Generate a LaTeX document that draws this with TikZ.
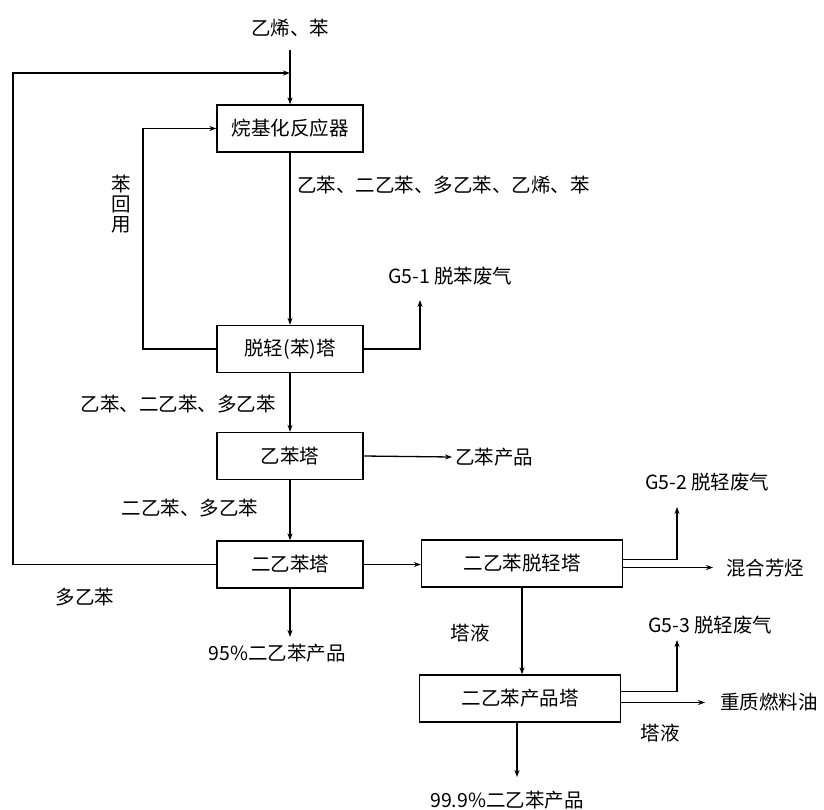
\documentclass[tikz,border=0pt]{standalone}
\usepackage{fontspec}
\setmainfont{Liberation Sans}
\newfontfamily\cjk{Noto Sans CJK SC}
\usetikzlibrary{arrows.meta,positioning}

\begin{document}
\begin{tikzpicture}[x=1pt, y=-1pt,
    unit/.style={draw=black, line width=1.3pt, minimum width=146pt, minimum height=47pt, inner sep=0pt, font=\cjk\fontsize{19.5}{21}\selectfont},
    wide/.style={unit, minimum width=201pt},
    lbl/.style={inner sep=0pt, font=\cjk\fontsize{19.5}{21}\selectfont},
    flow/.style={-{Stealth[length=7pt,width=5pt]}, line width=1.3pt},
    pipe/.style={line width=1.3pt}
]
\useasboundingbox (0,0) rectangle (824,809);

% Units
\node[unit] (reactor) at (290,128.5) {烷基化反应器};
\node[unit] (lights) at (290,349) {脱轻(苯)塔};
\node[unit] (eb) at (290,456) {乙苯塔};
\node[unit] (deb) at (290,564.5) {二乙苯塔};
\node[wide] (debl) at (522,563.5) {二乙苯脱轻塔};
\node[wide] (debp) at (520,698.5) {二乙苯产品塔};

% Labels
\node[lbl] (feed) at (290,28) {乙烯、苯};
\node[lbl, align=center, font=\cjk\fontsize{19.5}{20}\selectfont] (bzback) at (121,204) {苯\\回\\用};
\node[lbl, anchor=west] (rxout) at (297,185) {乙苯、二乙苯、多乙苯、乙烯、苯};
\node[lbl, anchor=west] (g1lbl) at (388,276) {G5-1 脱苯废气};
\node[lbl] (ltout) at (178,404) {乙苯、二乙苯、多乙苯};
\node[lbl, anchor=west] (ebprod) at (455,457) {乙苯产品};
\node[lbl] (ebout) at (190,508) {二乙苯、多乙苯};
\node[lbl] (peb) at (85,597) {多乙苯};
\node[lbl] (p95) at (277,653) {95\%二乙苯产品};
\node[lbl, anchor=west] (g2lbl) at (645,482) {G5-2 脱轻废气};
\node[lbl, anchor=west] (arom) at (726,568) {混合芳烃};
\node[lbl] (bot1) at (470,633) {塔液};
\node[lbl, anchor=west] (g3lbl) at (648,625) {G5-3 脱轻废气};
\node[lbl, anchor=west] (fuel) at (720,702) {重质燃料油};
\node[lbl] (bot2) at (660,733) {塔液};
\node[lbl] (p999) at (507,800) {99.9\%二乙苯产品};

% Free ends
\coordinate (feedtop) at (290,50);
\coordinate (mix) at (290,73);
\coordinate (outrail) at (13,0);
\coordinate (inrail) at (143,0);
\coordinate (g1) at (420,300);
\coordinate (g2) at (677,507);
\coordinate (g3) at (677,640);

% Streams
\draw[flow] (feedtop) -- (reactor.north);
\draw[flow] (deb.west) -- (deb.west -| outrail) |- (mix);
\draw[flow] (lights.west) -- (lights.west -| inrail) |- (reactor.west);
\draw[flow] (reactor.south) -- (lights.north);
\draw[flow] (lights.east) -| (g1);
\draw[flow] (lights.south) -- (eb.north);
\draw[flow] (eb.east) -- ([xshift=-3pt]ebprod.west);
\draw[flow] (eb.south) -- (deb.north);
\draw[flow] (deb.east) -- (deb.east -| debl.west);
\draw[flow] (deb.south) -- (deb.south |- 0,637);
\draw[flow] ([yshift=4pt]debl.east) -| (g2);
\draw[flow] ([yshift=-4pt]debl.east) -- ([yshift=-4pt]debl.east -| 713,0);
\draw[flow] (debl.south) -- (debl.south |- debp.north);
\draw[flow] ([yshift=7pt]debp.east) -| (g3);
\draw[flow] ([yshift=-4pt]debp.east) -- ([yshift=-4pt]debp.east -| 705,0);
\draw[flow] ([xshift=-3pt]debp.south) -- ([xshift=-3pt]debp.south |- 0,777);

\end{tikzpicture}
\end{document}
